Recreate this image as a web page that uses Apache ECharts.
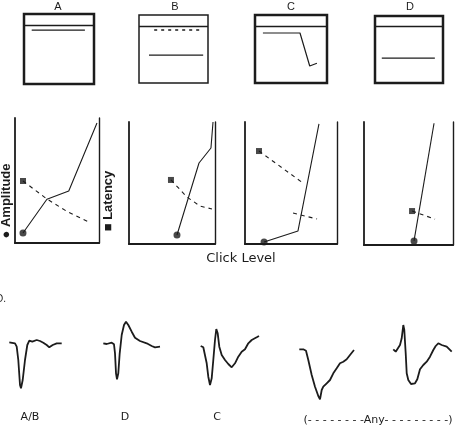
<!DOCTYPE html>
<html>
<head>
<meta charset="utf-8">
<script src="https://cdn.jsdelivr.net/npm/echarts@6/dist/echarts.min.js"></script>
<style>
html,body{margin:0;padding:0;background:#fff;}
#chart{width:462px;height:432px;}
</style>
</head>
<body>
<div id="chart"></div>
<script>
// ---------- DATA ----------
// Top panels (x: % of sweep, y: % of box height)
const topLabels = ['A', 'B', 'C', 'D'];
const headerLevel = 84;
const topA_solid = [[11, 77], [87, 77]];
const topB_dashed = [[22, 78], [91, 78]];
const topB_solid = [[14.5, 41], [93, 41]];
const topC_solid = [[11, 73.5], [62.5, 73.5], [76, 25], [86, 29]];
const topD_solid = [[10, 37], [88, 37]];

// Middle panels: amplitude (solid, circle) and latency (dashed, square) vs click level
const amp1 = [[9.5, 8], [38, 35], [64, 41.6], [97.6, 96]];
const lat1 = [[9.5, 49.6], [23.8, 42.4], [38, 35.2], [63, 24.8], [88, 16.8]];
const amp2 = [[55.8, 7.4], [81.4, 66.4], [95.3, 78.7], [97.7, 100]];
const lat2 = [[48.8, 52.5], [67.4, 38.5], [82.6, 31.1], [96.5, 28.7]];
const amp3 = [[20.7, 1.6], [57.6, 10.7], [80.4, 98.4]];
const lat3a = [[15.2, 76.2], [63, 50]];
const lat3b = [[52.2, 25.4], [78.3, 20.5]];
const amp4 = [[56.2, 3.3], [78.7, 99]];
const lat4 = [[54, 27.6], [79.8, 21]];

// Waveforms [time, amplitude]
const waveAB = [[0.3,17.7],[6,16.7],[7.7,13.3],[9.3,0],[11,-25],[12,-28.3],[13.7,-20],[16,0],[18.3,15],[20.3,19.3],[23.3,18.3],[27.7,20],[31,19],[34.3,17.3],[37.7,15],[40.3,12.7],[43.7,15],[47.7,16.7],[52.7,16.7]];
const waveD = [[0.3,16.7],[3.7,16],[8.7,17.3],[11,15.7],[12,6.7],[13,-13.3],[14,-19.3],[15.3,-13.3],[16.7,6.7],[18.7,25],[21,35],[23,38.3],[25.3,35],[28.7,28.3],[32,22.3],[37,19],[43.7,16.7],[48.7,14],[52,12.7],[57,13.3]];
const waveC = [[0.7,14],[3.3,12.7],[5,10.7],[6.7,-3.3],[8.3,-16.7],[10,-25],[11.7,-18.3],[13.3,0],[15,20],[16.3,31],[17.7,26.7],[19.3,13.3],[21.7,5],[25,0],[28.3,-4],[31.7,-7.3],[35,-3.3],[38.3,3.3],[41.7,8.3],[45,10.7],[48.3,16.7],[51.7,20],[56.7,22.7],[59,24]];
const waveAny1 = [[0.3,10.7],[4.3,10.7],[7,9.3],[9.3,0],[12.7,-15],[16,-26.7],[19.3,-36],[21,-39.3],[22.7,-30],[24.3,-26.7],[27.7,-23.3],[31,-20],[34.3,-13.3],[37.7,-8.3],[41,-3.3],[44.3,-1.7],[47.7,0.7],[51,5],[55,10]];
const waveAny2 = [[0.3,10.7],[2.7,8.3],[4.7,9.3],[7,15],[8.7,21.7],[10.3,35],[11.3,30],[12.7,6.7],[13.7,-13.3],[15.3,-20],[18,-24],[19.3,-26],[22,-23.3],[24.3,-19.3],[27,-9.3],[30.3,-5],[33.7,-1.7],[37,3.3],[40.3,10],[42.7,14],[45.3,16.7],[48.7,15],[53.7,13.3],[58.7,8.3]];
const waveLabels = ['A/B', 'D', 'C', '(- - - - - - - -Any- - - - - - - - -)'];
const ampLabel = '\u25CF Amplitude';
const latLabel = '\u25A0 Latency';
const xLabel = 'Click Level';

// ---------- LAYOUT ----------
const INK = '#1c1c1c';
const topGrids = [
  {left: 24, top: 14, width: 70, height: 70, bw: 2.5},
  {left: 139, top: 15, width: 69, height: 68, bw: 1.5},
  {left: 255, top: 15, width: 72, height: 68, bw: 2.5},
  {left: 375, top: 16, width: 68, height: 67, bw: 2.5}
];
const midGrids = [
  {left: 15, top: 118, width: 84, height: 125},
  {left: 129, top: 122, width: 86, height: 122},
  {left: 245, top: 122, width: 92, height: 122},
  {left: 364, top: 122, width: 89, height: 123}
];
const waveGrids = [9, 103, 200, 299, 393].map(l => ({left: l, top: 315, width: 60, height: 90}));

const grids = [], xAxes = [], yAxes = [], series = [];
const hidden = {show: false};

function lineSeries(xi, yi, data, dashed, width) {
  return {
    type: 'line', xAxisIndex: xi, yAxisIndex: yi, data: data, symbol: 'none',
    clip: false, silent: true,
    lineStyle: {color: INK, width: width || 1.1, type: dashed ? dashed : 'solid'}
  };
}
function marker(xi, yi, pt, sym, size) {
  return {
    type: 'scatter', xAxisIndex: xi, yAxisIndex: yi, data: [pt], symbol: sym,
    symbolSize: size, clip: false, silent: true, z: 5,
    itemStyle: {color: INK}
  };
}

// top
topGrids.forEach((g, i) => {
  grids.push({left: g.left, top: g.top, width: g.width, height: g.height, show: true,
    borderColor: INK, borderWidth: g.bw, backgroundColor: 'transparent'});
  xAxes.push({gridIndex: grids.length - 1, type: 'value', min: 0, max: 100, show: false});
  yAxes.push({gridIndex: grids.length - 1, type: 'value', min: 0, max: 100, show: false});
});
const topSeriesData = [
  [[topA_solid, null]],
  [[topB_dashed, [3, 4]], [topB_solid, null]],
  [[topC_solid, null]],
  [[topD_solid, null]]
];
topSeriesData.forEach((list, i) => {
  list.forEach((s, k) => {
    const ser = lineSeries(i, i, s[0], s[1], s[1] ? 1.6 : 1.2);
    if (k === 0) {
      ser.markLine = {silent: true, symbol: 'none', label: {show: false},
        lineStyle: {color: INK, width: 1.4, type: 'solid'},
        data: [{yAxis: headerLevel}], animation: false};
    }
    series.push(ser);
  });
});

// middle
const midAxisLine = w => ({show: true, onZero: false, lineStyle: {color: INK, width: w}});
midGrids.forEach((g, i) => {
  grids.push({left: g.left, top: g.top, width: g.width, height: g.height});
  const gi = grids.length - 1;
  xAxes.push({gridIndex: gi, type: 'value', min: 0, max: 100, axisLine: midAxisLine(2.2),
    axisTick: hidden, axisLabel: hidden, splitLine: hidden});
  yAxes.push({gridIndex: gi, type: 'value', min: 0, max: 100, position: 'left', axisLine: midAxisLine(1.8),
    axisTick: hidden, axisLabel: hidden, splitLine: hidden});
  yAxes.push({gridIndex: gi, type: 'value', min: 0, max: 100, position: 'right', axisLine: midAxisLine(1.4),
    axisTick: hidden, axisLabel: hidden, splitLine: hidden});
});
const midSets = [
  {amp: amp1, lats: [lat1]},
  {amp: amp2, lats: [lat2]},
  {amp: amp3, lats: [lat3a, lat3b]},
  {amp: amp4, lats: [lat4]}
];
midSets.forEach((m, i) => {
  const xi = 4 + i, yi = 4 + i * 2;
  series.push(lineSeries(xi, yi, m.amp, null, 1.1));
  m.lats.forEach(l => series.push(lineSeries(xi, yi, l, [4, 4], 1.1)));
  series.push(marker(xi, yi, m.amp[0], 'circle', 7));
  series.push(marker(xi, yi, m.lats[0][0], 'rect', 6));
});

// waves
const waves = [waveAB, waveD, waveC, waveAny1, waveAny2];
waveGrids.forEach((g, i) => {
  grids.push({left: g.left, top: g.top, width: g.width, height: g.height});
  const gi = grids.length - 1;
  xAxes.push({gridIndex: gi, type: 'value', min: 0, max: 60, show: false});
  yAxes.push({gridIndex: gi, type: 'value', min: -45, max: 45, show: false});
  series.push(lineSeries(xAxes.length - 1, yAxes.length - 1, waves[i], null, 1.8));
});

// texts
function txt(x, y, text, size, opts) {
  return Object.assign({type: 'text', x: x, y: y, silent: true,
    style: {text: text, fontSize: size, fontFamily: 'Liberation Sans, Arial, sans-serif',
      fill: INK, align: 'center', verticalAlign: 'middle'}}, opts || {});
}
const graphics = [];
const topLabelX = [58, 175, 291, 410];
topLabels.forEach((t, i) => graphics.push(txt(topLabelX[i], 7, t, 11)));
const ampText = txt(6, 201, ampLabel, 13, {rotation: Math.PI / 2});
ampText.style.fontWeight = 'bold';
const latText = txt(108, 201, latLabel, 13, {rotation: Math.PI / 2});
latText.style.fontWeight = 'bold';
graphics.push(ampText, latText);
const xl = txt(241, 259, xLabel, 13);
xl.style.fontFamily = 'DejaVu Sans, sans-serif';
graphics.push(xl);
const dl = txt(6, 299, 'D.', 10);
dl.style.align = 'right';
graphics.push(dl);
const waveLabelX = [30, 125, 217, 378];
const waveLabelY = [417, 417, 417, 420];
waveLabels.forEach((t, i) => {
  const g = txt(waveLabelX[i], waveLabelY[i], t, 11);
  g.style.fontFamily = 'DejaVu Sans, sans-serif';
  graphics.push(g);
});

const chart = echarts.init(document.getElementById('chart'), null, {renderer: 'canvas'});
chart.setOption({
  backgroundColor: '#ffffff',
  animation: false,
  grid: grids,
  xAxis: xAxes,
  yAxis: yAxes,
  series: series,
  graphic: graphics
});
</script>
</body>
</html>
